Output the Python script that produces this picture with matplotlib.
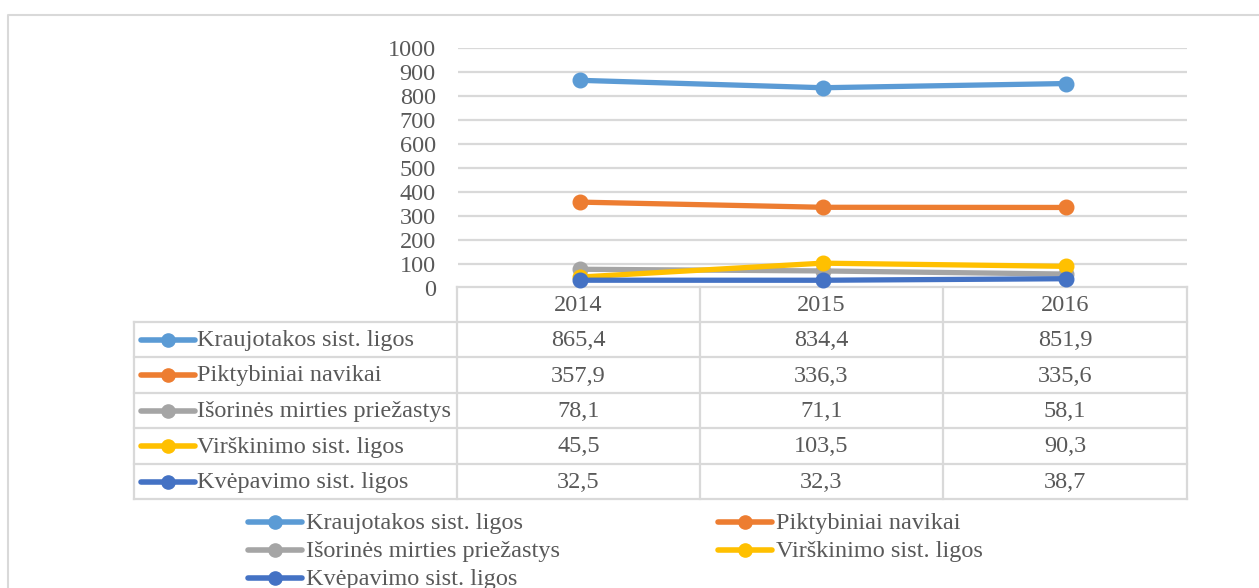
import matplotlib
matplotlib.use("Agg")
import matplotlib.pyplot as plt
from matplotlib.lines import Line2D

years = ["2014", "2015", "2016"]
series_names = [
    "Kraujotakos sist. ligos",
    "Piktybiniai navikai",
    "Išorinės mirties priežastys",
    "Virškinimo sist. ligos",
    "Kvėpavimo sist. ligos",
]
kraujotakos = [865.4, 834.4, 851.9]
piktybiniai = [357.9, 336.3, 335.6]
isorines = [78.1, 71.1, 58.1]
virskinimo = [45.5, 103.5, 90.3]
kvepavimo = [32.5, 32.3, 38.7]
series_values = [kraujotakos, piktybiniai, isorines, virskinimo, kvepavimo]
colors = ["#5B9BD5", "#ED7D31", "#A5A5A5", "#FFC000", "#4472C4"]
yticks = [0, 100, 200, 300, 400, 500, 600, 700, 800, 900, 1000]

W, H = 1259, 588
plt.rcParams['font.family'] = ['Liberation Serif', 'DejaVu Serif']
TXT = "#595959"
GRID = "#D9D9D9"
FS = 17.5

fig = plt.figure(figsize=(W / 100, H / 100), dpi=100)

# overlay axes in pixel coordinates
ov = fig.add_axes([0, 0, 1, 1])
ov.set_xlim(0, W)
ov.set_ylim(H, 0)
ov.axis("off")
ov.set_zorder(0)

# outer frame
ov.plot([8.5, 8.5, W + 5], [H + 5, 14.5, 14.5], color=GRID, lw=1.5, solid_capstyle="butt")

# plot area
L, R, T, B = 458, 1187, 48, 288
ax = fig.add_axes([L / W, 1 - B / H, (R - L) / W, (B - T) / H])
ax.set_zorder(2)
ax.patch.set_alpha(0)
ax.set_xlim(-0.5, len(years) - 0.5)
ax.set_ylim(0, 1000)
ax.set_yticks(yticks)
ax.set_yticklabels([str(v) for v in yticks], fontsize=FS, color=TXT)
ax.set_xticks([])
ax.tick_params(axis="y", length=0, pad=16)
for s in ax.spines.values():
    s.set_visible(False)
ax.grid(axis="y", color=GRID, lw=1.6)
ax.set_axisbelow(True)
xs = list(range(len(years)))
for name, vals, c in zip(series_names, series_values, colors):
    ax.plot(xs, vals, color=c, lw=3.8, marker="o", markersize=10.5,
            solid_capstyle="round", clip_on=False)

# data table
col_edges = [457, 700, 943, 1187]
row_edges = [287, 322, 357, 393, 428, 464, 499]
tl = 134
lw_t = 1.6
# header row
ov.plot([col_edges[0], col_edges[-1]], [row_edges[0], row_edges[0]], color=GRID, lw=lw_t)
for x in col_edges:
    ov.plot([x, x], [row_edges[0], row_edges[-1]], color=GRID, lw=lw_t)
for y in row_edges[1:]:
    ov.plot([tl, col_edges[-1]], [y, y], color=GRID, lw=lw_t)
ov.plot([tl, tl], [row_edges[1], row_edges[-1]], color=GRID, lw=lw_t)

centers = [(col_edges[i] + col_edges[i + 1]) / 2 for i in range(3)]
for i, yr in enumerate(years):
    ov.text(centers[i], (row_edges[0] + row_edges[1]) / 2 + 1, yr, ha="center", va="center",
            fontsize=FS, color=TXT)
for r, (name, vals, c) in enumerate(zip(series_names, series_values, colors)):
    yc = (row_edges[r + 1] + row_edges[r + 2]) / 2
    ov.add_line(Line2D([141, 195], [yc, yc], color=c, lw=4, solid_capstyle="round"))
    ov.plot([168], [yc], marker="o", markersize=9.5, color=c)
    ov.text(197, yc + 1, name, ha="left", va="center", fontsize=FS, color=TXT)
    for i, v in enumerate(vals):
        ov.text(centers[i], yc + 1, f"{v:.1f}".replace(".", ","), ha="center", va="center",
                fontsize=FS, color=TXT)

# legend below
leg_pos = [(275, 522), (745, 522), (275, 550), (745, 550), (275, 578)]
for (cx, cy), name, c in zip(leg_pos, series_names, colors):
    ov.add_line(Line2D([cx - 27, cx + 27], [cy, cy], color=c, lw=4, solid_capstyle="round"))
    ov.plot([cx], [cy], marker="o", markersize=9.5, color=c)
    ov.text(cx + 31, cy + 1, name, ha="left", va="center", fontsize=FS, color=TXT)

fig.savefig("out.png", dpi=100)
